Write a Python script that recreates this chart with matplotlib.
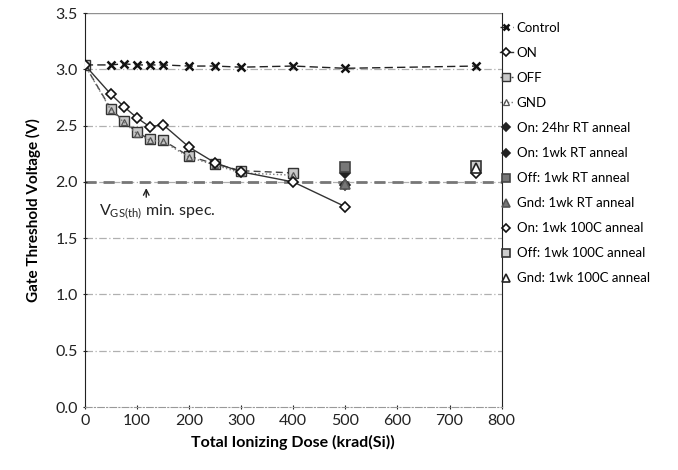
import matplotlib.pyplot as plt

plt.rcParams['font.family'] = ['Lato', 'DejaVu Sans']

# 照射データ
dose = [0, 50, 75, 100, 125, 150, 200, 250, 300, 400, 500]
ctrl_dose = [0, 50, 75, 100, 125, 150, 200, 250, 300, 400, 500, 750]
ctrl_v = [3.04, 3.04, 3.05, 3.04, 3.04, 3.04, 3.03, 3.03, 3.02, 3.03, 3.01, 3.03]
on_v = [3.04, 2.78, 2.67, 2.57, 2.49, 2.51, 2.31, 2.17, 2.09, 2.00, 1.78]
off_dose = dose[:10]
off_v = [3.04, 2.65, 2.54, 2.44, 2.38, 2.37, 2.23, 2.16, 2.10, 2.08]
gnd_v = [3.04, 2.64, 2.53, 2.43, 2.37, 2.36, 2.22, 2.15, 2.08, 2.06]

# アニール後データ
anneal_labels = ["On: 24hr RT anneal", "On: 1wk RT anneal", "Off: 1wk RT anneal",
                 "Gnd: 1wk RT anneal", "On: 1wk 100C anneal", "Off: 1wk 100C anneal",
                 "Gnd: 1wk 100C anneal"]
anneal_x = [500, 500, 500, 500, 750, 750, 750]
anneal_v = [2.08, 1.97, 2.13, 1.98, 2.08, 2.14, 2.12]

spec_v = 2.0
xticks = [0, 100, 200, 300, 400, 500, 600, 700, 800]
yticks = [0.0, 0.5, 1.0, 1.5, 2.0, 2.5, 3.0, 3.5]

fig = plt.figure(figsize=(6.78, 4.70), dpi=100)
ax = fig.add_axes([0.125, 0.134, 0.615, 0.838])

for y in yticks[1:-1]:
    ax.axhline(y, color='#b0b0b0', lw=0.9, ls=(0, (6, 2, 1, 2)), zorder=0)
ax.axhline(3.5, color='#909090', lw=1.0, zorder=0)
ax.axhline(spec_v, color='#777777', lw=2.0, ls=(0, (4, 2.5)), zorder=1)

ax.plot(ctrl_dose, ctrl_v, color='#222222', ls=(0, (6, 3)), lw=1.0,
        marker='x', ms=6, mew=1.8, mec='#111111', label='Control', zorder=3)
ax.plot(dose, on_v, color='#333333', ls='-', lw=1.0, marker='D', ms=5,
        mfc='white', mec='#111111', mew=1.2, label='ON', zorder=4)
ax.plot(off_dose, off_v, color='#444444', ls=(0, (5, 3)), lw=1.0, marker='s', ms=7,
        mfc='#c8c8c8', mec='#333333', mew=1.0, label='OFF', zorder=3)
ax.plot(off_dose, gnd_v, color='#777777', ls=':', lw=1.0, marker='^', ms=5,
        mfc='none', mec='#555555', mew=0.9, label='GND', zorder=3)

anneal_style = [
    dict(marker='D', ms=5, mfc='#222222', mec='#222222'),
    dict(marker='D', ms=5, mfc='#222222', mec='#222222'),
    dict(marker='s', ms=7, mfc='#777777', mec='#444444'),
    dict(marker='^', ms=7, mfc='#777777', mec='#555555'),
    dict(marker='D', ms=5, mfc='white', mec='#111111'),
    dict(marker='s', ms=7, mfc='#cccccc', mec='#333333'),
    dict(marker='^', ms=7, mfc='white', mec='#222222'),
]
for lab, xx, vv, st in zip(anneal_labels, anneal_x, anneal_v, anneal_style):
    ax.plot([xx], [vv], ls='none', mew=1.2, label=lab, zorder=5, **st)

ax.annotate('', xy=(118, 1.97), xytext=(118, 1.84),
            arrowprops=dict(arrowstyle='->', color='#222222', lw=1.0))
ax.text(28, 1.73, r'V$_{\mathregular{GS(th)}}$ min. spec.', fontsize=11.5,
        va='center', ha='left', color='#222222')

ax.set_xlim(0, 800)
ax.set_ylim(0, 3.5)
ax.set_xticks(xticks)
ax.set_yticks(yticks)
ax.set_yticklabels([f"{y:.1f}" for y in yticks])
ax.tick_params(labelsize=11.5, length=3, direction='inout', colors='#222222')
ax.set_xlabel('Total Ionizing Dose (krad(Si))', fontsize=11.5, fontweight='bold', labelpad=5)
ax.set_ylabel('Gate Threshold Voltage (V)', fontsize=11, fontweight='bold', labelpad=10)

for s in ['left', 'right']:
    ax.spines[s].set_color('#222222')
ax.spines['top'].set_visible(False)
ax.spines['bottom'].set_color('#999999')
ax.spines['bottom'].set_linestyle((0, (6, 2, 1, 2)))

ax.legend(loc='upper left', bbox_to_anchor=(0.995, 0.978), frameon=False,
          fontsize=9.5, labelspacing=0.99, handlelength=1.0, handletextpad=0.3,
          markerscale=0.75, borderaxespad=0, borderpad=0)

fig.savefig('out.png', dpi=100)
